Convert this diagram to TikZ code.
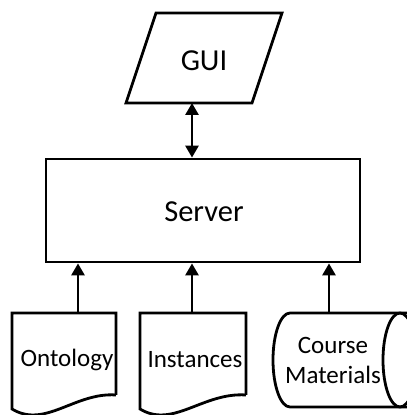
\documentclass[tikz,border=0pt]{standalone}
\usepackage{fontspec}
\setmainfont{Carlito}
\usetikzlibrary{arrows.meta}
\begin{document}
\begin{tikzpicture}[x=1bp,y=1bp,
  shapeline/.style={draw=black,line width=2.8bp,line join=miter},
  conn/.style={draw=black,line width=2.8bp,-{Triangle[width=13bp,length=12bp]}},
  bigtext/.style={font=\fontsize{30.5bp}{36bp}\selectfont,inner sep=0pt},
  smalltext/.style={font=\fontsize{25bp}{30bp}\selectfont,inner sep=0pt,align=center}]
\useasboundingbox (0,0) rectangle (407,415);
\clip (0,0) rectangle (407,415);
% GUI
\draw[shapeline] (156,402) -- (282,402) -- (252,312) -- (126,312) -- cycle;
\node[bigtext] (gui) at (204,354) {GUI};
\coordinate (guibot) at (192,312);
% Server
\node[shapeline,minimum width=314bp,minimum height=103bp,inner sep=0pt] (srvbox) at (203,204.5) {};
\node[bigtext] (srv) at (204,203) {Server};
% Ontology
\draw[shapeline] (116,20) -- (116,102) -- (12,102) -- (12,6) .. controls (45,-14) and (75,23) .. (116,20);
\node[smalltext] (onto) at (67,55) {Ontology};
\coordinate (ontotop) at (78,102);
% Instances
\draw[shapeline] (246,20) -- (246,102) -- (140,102) -- (140,6) .. controls (173,-14) and (203,23) .. (246,20);
\node[smalltext] (inst) at (195,55) {Instances};
\coordinate (insttop) at (192,102);
% Course Materials
\draw[shapeline] (420,102) -- (290,102) arc[start angle=90,end angle=270,x radius=17,y radius=47] -- (420,8);
\draw[shapeline] (400,55) ellipse[x radius=17,y radius=47];
\node[smalltext] (cm) at (333,55) {Course\\Materials};
\coordinate (cmtop) at (329,102);
% connectors
\draw[conn,{Triangle[width=13bp,length=12bp]}-{Triangle[width=13bp,length=12bp]}] (guibot) -- (guibot |- srvbox.north);
\draw[conn] (ontotop) -- (ontotop |- srvbox.south);
\draw[conn] (insttop) -- (insttop |- srvbox.south);
\draw[conn] (cmtop) -- (cmtop |- srvbox.south);
\end{tikzpicture}
\end{document}
